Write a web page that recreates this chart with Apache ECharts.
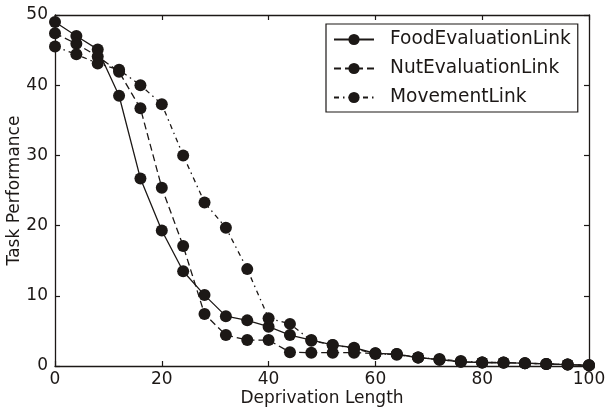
<!DOCTYPE html>
<html>
<head>
<meta charset="utf-8">
<script src="https://cdn.jsdelivr.net/npm/echarts@6/dist/echarts.min.js"></script>
<style>
  html, body { margin: 0; padding: 0; background: #fff; }
  #chart { width: 608px; height: 413px; }
</style>
</head>
<body>
<div id="chart"></div>
<script>
const deprivation = [0, 4, 8, 12, 16, 20, 24, 28, 32, 36, 40, 44, 48, 52, 56, 60, 64, 68, 72, 76, 80, 84, 88, 92, 96, 100];
const foodLink = [49.0, 47.0, 45.1, 38.5, 26.7, 19.3, 13.5, 10.1, 7.1, 6.5, 5.6, 4.4, 3.7, 3.0, 2.6, 1.8, 1.7, 1.2, 0.9, 0.6, 0.5, 0.45, 0.4, 0.3, 0.2, 0.1];
const nutLink = [47.4, 45.9, 44.1, 41.9, 36.7, 25.4, 17.1, 7.4, 4.4, 3.7, 3.7, 1.95, 1.9, 1.9, 1.9, 1.8, 1.6, 1.2, 0.9, 0.6, 0.5, 0.5, 0.4, 0.3, 0.2, 0.1];
const movementLink = [45.5, 44.4, 43.1, 42.2, 40.0, 37.3, 30.0, 23.3, 19.7, 13.8, 6.8, 6.0, 3.6, 3.0, 2.5, 1.7, 1.7, 1.2, 1.0, 0.7, 0.5, 0.5, 0.4, 0.3, 0.2, 0.1];
const seriesNames = ['FoodEvaluationLink', 'NutEvaluationLink', 'MovementLink'];

const ink = '#1c1816';
const font = 'DejaVu Sans';
const fontSize = 17;

function pairs(values) {
  return deprivation.map((x, i) => [x, values[i]]);
}

function makeSeries(name, values, dash) {
  return {
    name: name,
    type: 'line',
    data: pairs(values),
    symbol: 'circle',
    symbolSize: 12,
    showSymbol: true,
    itemStyle: { color: ink },
    lineStyle: { color: ink, width: 1.3, type: dash },
    emphasis: { disabled: true },
    animation: false
  };
}

function axisCommon() {
  return {
    axisLine: { show: true, onZero: false, lineStyle: { color: ink, width: 1.3 } },
    axisTick: { show: true, inside: true, length: 5, lineStyle: { color: ink, width: 1.2 } },
    splitLine: { show: false },
    nameMoveOverlap: false
  };
}

function renderChart() {
  const chart = echarts.init(document.getElementById('chart'), null, { renderer: 'canvas' });

  const option = {
    backgroundColor: '#fff',
    animation: false,
    grid: { left: 55, right: 19, top: 15, bottom: 47, outerBoundsMode: 'none', containLabel: false },
    legend: {
      orient: 'vertical',
      left: 326,
      top: 24,
      padding: [6, 7, 5, 7],
      itemGap: 10,
      itemWidth: 40,
      itemHeight: 14,
      backgroundColor: '#fff',
      borderColor: ink,
      borderWidth: 1.2,
      borderRadius: 0,
      textStyle: { fontFamily: font, fontSize: 18.6, lineHeight: 18, color: ink, padding: [0, 0, 0, 11] },
      data: seriesNames
    },
    xAxis: [
      Object.assign(axisCommon(), {
        type: 'value',
        min: 0, max: 100, interval: 20,
        name: 'Deprivation Length',
        nameLocation: 'middle',
        nameGap: 24,
        nameTextStyle: { fontFamily: font, fontSize: fontSize, color: ink },
        axisLabel: { fontFamily: font, fontSize: fontSize, color: ink, margin: 5 }
      }),
      Object.assign(axisCommon(), {
        type: 'value', position: 'top',
        min: 0, max: 100, interval: 20,
        axisLabel: { show: false }
      })
    ],
    yAxis: [
      Object.assign(axisCommon(), {
        type: 'value',
        min: 0, max: 50, interval: 10,
        name: 'Task Performance',
        nameLocation: 'middle',
        nameGap: 32,
        nameTextStyle: { fontFamily: font, fontSize: fontSize, color: ink },
        axisLabel: { fontFamily: font, fontSize: fontSize, color: ink, margin: 7 }
      }),
      Object.assign(axisCommon(), {
        type: 'value', position: 'right',
        min: 0, max: 50, interval: 10,
        axisLabel: { show: false }
      })
    ],
    series: [
      makeSeries(seriesNames[0], foodLink, 'solid'),
      makeSeries(seriesNames[1], nutLink, [7, 4]),
      makeSeries(seriesNames[2], movementLink, [5, 4, 1.5, 4])
    ]
  };

  chart.setOption(option);
}

document.addEventListener('DOMContentLoaded', renderChart);
</script>
</body>
</html>
